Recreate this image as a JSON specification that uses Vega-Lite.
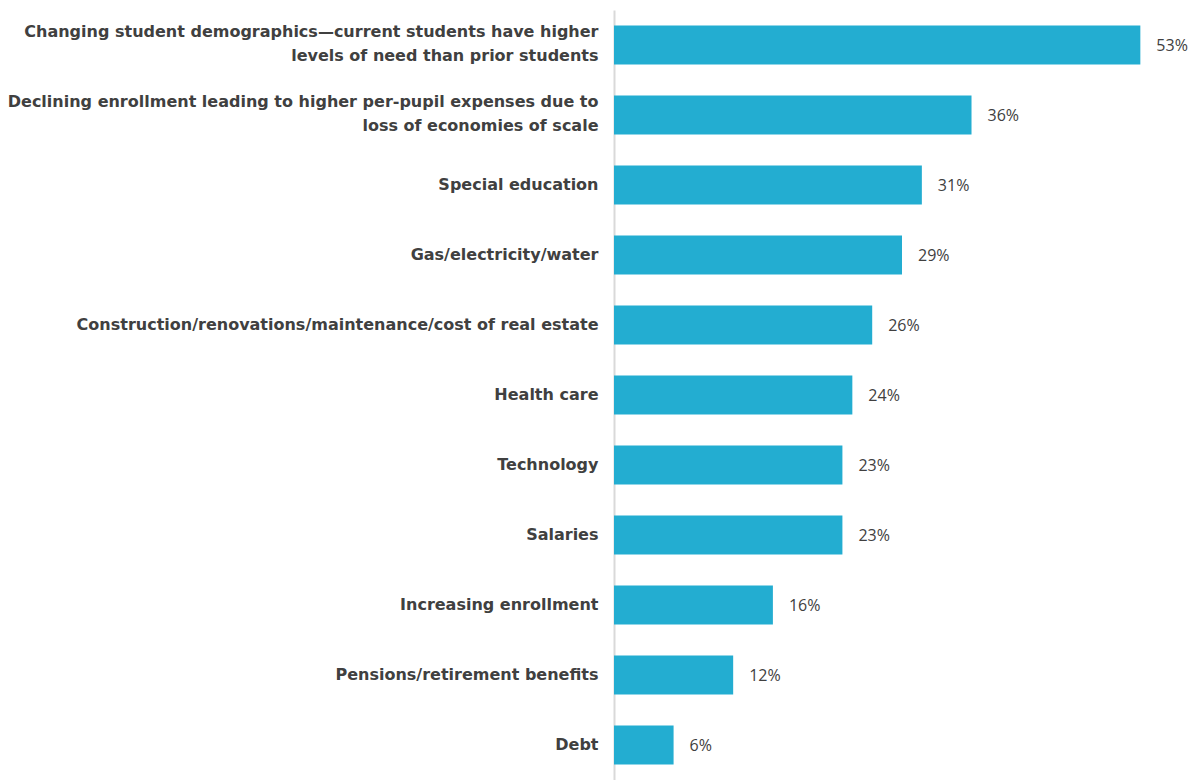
{
  "$schema": "https://vega.github.io/schema/vega-lite/v6.json",
  "autosize": "none",
  "padding": {"left": 614, "top": 10, "right": 0, "bottom": 0},
  "width": 576,
  "height": 770,
  "background": "white",
  "config": {"view": {"stroke": null}},
  "data": {
    "values": [
      {"item": "Changing student demographics—current students have higher|levels of need than prior students", "pct": 53, "label": "53%"},
      {"item": "Declining enrollment leading to higher per-pupil expenses due to|loss of economies of scale", "pct": 36, "label": "36%"},
      {"item": "Special education", "pct": 31, "label": "31%"},
      {"item": "Gas/electricity/water", "pct": 29, "label": "29%"},
      {"item": "Construction/renovations/maintenance/cost of real estate", "pct": 26, "label": "26%"},
      {"item": "Health care", "pct": 24, "label": "24%"},
      {"item": "Technology", "pct": 23, "label": "23%"},
      {"item": "Salaries", "pct": 23, "label": "23%"},
      {"item": "Increasing enrollment", "pct": 16, "label": "16%"},
      {"item": "Pensions/retirement benefits", "pct": 12, "label": "12%"},
      {"item": "Debt", "pct": 6, "label": "6%"}
    ]
  },
  "encoding": {
    "y": {
      "field": "item",
      "type": "nominal",
      "sort": null,
      "scale": {"paddingInner": 0.44, "paddingOuter": 0.22},
      "axis": {
        "title": null,
        "ticks": false,
        "domainColor": "#d9d9d9",
        "domainWidth": 2,
        "labelPadding": 16,
        "labelLimit": 700,
        "labelFont": "DejaVu Sans",
        "labelFontWeight": "bold",
        "labelFontSize": 16,
        "labelColor": "#404040",
        "labelLineHeight": 24,
        "labelOffset": {"condition": {"test": "indexof(datum.label, '|') >= 0", "value": -13}, "value": 0},
        "labelExpr": "split(datum.label, '|')"
      }
    },
    "x": {
      "field": "pct",
      "type": "quantitative",
      "scale": {"domain": [0, 58]},
      "axis": null
    }
  },
  "layer": [
    {"mark": {"type": "bar", "color": "#23ADD1"}},
    {
      "mark": {"type": "text", "align": "left", "dx": 16, "dy": 1, "font": "Open Sans", "fontSize": 16, "color": "#404040"},
      "encoding": {"text": {"field": "label", "type": "nominal"}}
    }
  ]
}
